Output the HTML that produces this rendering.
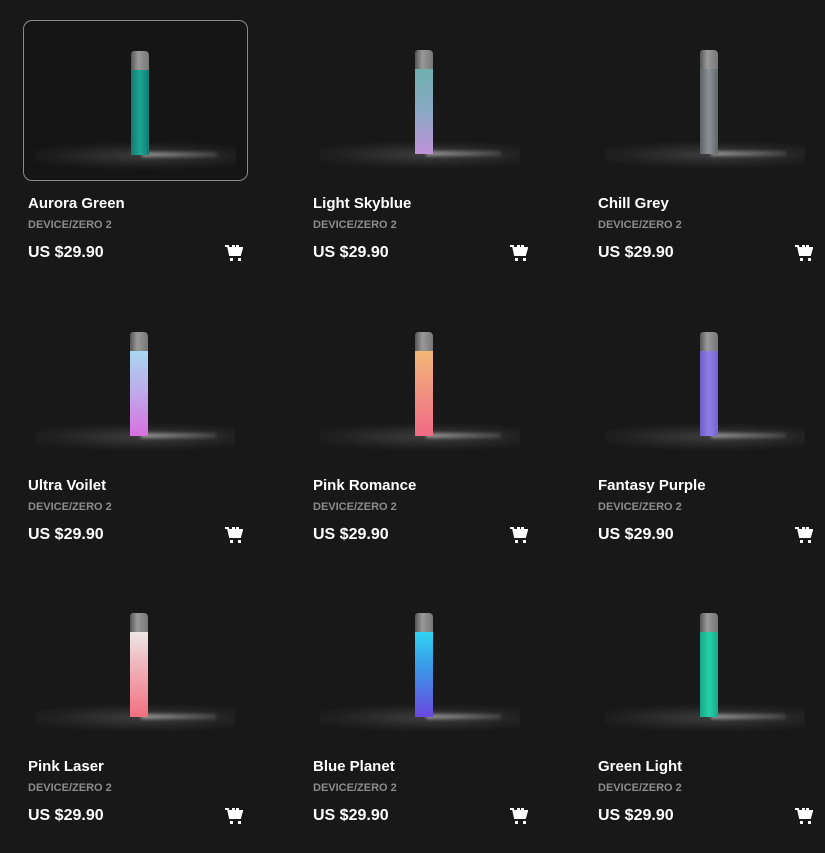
<!DOCTYPE html>
<html><head><meta charset="utf-8"><style>
html,body{margin:0;padding:0;background:#181818;width:825px;height:828px;overflow:hidden;font-family:"Liberation Sans",sans-serif}
.card{position:absolute;width:225px;height:270px}
.img{position:absolute;left:0;top:0;width:225px;height:161px;border-radius:9px;box-sizing:border-box;overflow:hidden;background:#181818}
.img.sel{border:1px solid #8a8a8a;background:#151515}
.floor{position:absolute;left:12px;top:118px;width:200px;height:42px;background:radial-gradient(ellipse 65% 35% at 55% 40%,rgba(255,255,255,0.16),rgba(255,255,255,0.04) 70%,rgba(255,255,255,0) 100%)}
.beam{position:absolute;left:118px;top:131px;width:75px;height:5px;background:linear-gradient(90deg,rgba(255,255,255,0.45),rgba(255,255,255,0.12));filter:blur(1.5px)}
.cap{position:absolute;left:107px;top:30px;width:18px;height:19px;background:linear-gradient(90deg,#555,#999 40%,#777);border-radius:3px 4px 0 0}
.body{position:absolute;left:107px;top:49px;width:18px;height:85px}
.t{position:absolute;left:5px;top:175px;color:#fff;font-weight:bold;font-size:15px;white-space:nowrap}
.s{position:absolute;left:5px;top:199px;color:#8c8c8c;font-weight:bold;font-size:11px}
.p{position:absolute;left:5px;top:224px;color:#fff;font-weight:bold;font-size:16px}
.cart{position:absolute;left:201px;top:223px}
</style></head><body>
<script>
const items=[
["Aurora Green","linear-gradient(90deg,#117a6e,#1ea596 50%,#137a70)"],
["Light Skyblue","linear-gradient(180deg,#6fb0ae,#8aa8c4 50%,#c092d8)"],
["Chill Grey","linear-gradient(90deg,#5f6468,#8b9196 50%,#62676b)"],
["Ultra Voilet","linear-gradient(180deg,#a8d8f0,#c0a8ea 50%,#d870e0)"],
["Pink Romance","linear-gradient(180deg,#f2b878,#f09080 50%,#f06a86)"],
["Fantasy Purple","linear-gradient(90deg,#6f5fc8,#927ee8 50%,#7565d0)"],
["Pink Laser","linear-gradient(180deg,#eee6e6,#f0a8b0 50%,#f07080)"],
["Blue Planet","linear-gradient(180deg,#30d4f2,#3a9ae8 40%,#6a48e0)"],
["Green Light","linear-gradient(90deg,#16a888,#26d0aa 50%,#18aa8a)"]];
const cart='<svg width="19" height="19" viewBox="0 0 19 19"><path d="M1 3h3l2 9h10l2-7H5" fill="none" stroke="#fff" stroke-width="2"/><path d="M5.5 5h12.5l-2 7H6.5z" fill="#fff"/><rect x="8" y="2" width="3" height="3" fill="#fff"/><rect x="12" y="2" width="3" height="3" fill="#fff"/><rect x="6" y="15" width="3" height="3" fill="#fff"/><rect x="14" y="15" width="3" height="3" fill="#fff"/></svg>';
let h='';
items.forEach((it,i)=>{const c=i%3,r=Math.floor(i/3);const x=23+c*285,y=20+r*281.5;
h+=`<div class="card" style="left:${x}px;top:${y}px"><div class="img${i==0?' sel':''}"><div class="floor"></div><div class="beam"></div><div class="cap"></div><div class="body" style="background:${it[1]}"></div></div><div class="t">${it[0]}</div><div class="s">DEVICE/ZERO 2</div><div class="p">US $29.90</div><div class="cart">${cart}</div></div>`;});
document.write(h);
</script>
</body></html>
